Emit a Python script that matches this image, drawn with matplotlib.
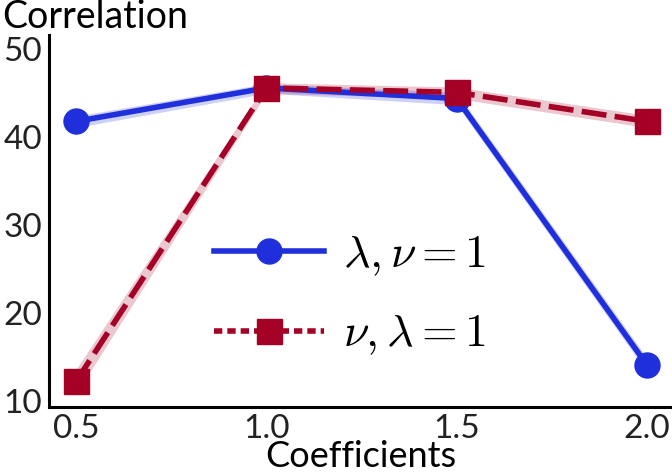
import matplotlib
matplotlib.use("Agg")
import matplotlib.pyplot as plt
from matplotlib.lines import Line2D

# valores
coeficientes = [0.5, 1.0, 1.5, 2.0]
corr_lambda = [41.8, 45.6, 44.4, 14.1]
corr_lambda_lo = [41.1, 45.0, 43.7, 13.3]
corr_lambda_hi = [42.4, 46.1, 45.1, 14.9]
corr_nu = [12.2, 45.6, 45.1, 41.8]
corr_nu_lo = [10.8, 45.0, 44.4, 41.1]
corr_nu_hi = [13.6, 46.2, 45.7, 42.5]
etiquetas_x = ["0.5", "1.0", "1.5", "2.0"]
etiquetas_y = ["10", "20", "30", "40", "50"]

azul = "#1f2fdc"
rojo = "#a50026"

plt.rcParams['font.family'] = ['Lato', 'DejaVu Sans']
plt.rcParams['mathtext.fontset'] = 'cm'

fig = plt.figure(figsize=(6.72, 4.76), dpi=100)
ax = fig.add_axes([0.073, 0.145, 0.927, 0.781])

ax.fill_between(coeficientes, corr_lambda_lo, corr_lambda_hi, color=azul, alpha=0.22, lw=0)
ax.fill_between(coeficientes, corr_nu_lo, corr_nu_hi, color=rojo, alpha=0.22, lw=0)
ax.plot(coeficientes, corr_lambda, '-', color=azul, lw=4, marker='o', ms=18, zorder=3)
ax.plot(coeficientes, corr_nu, color=rojo, lw=4, dashes=(4.5, 1.5), marker='s', ms=18, zorder=4)

ax.set_xlim(0.429, 2.066)
ax.set_ylim(9.3, 51.6)
ax.set_xticks(coeficientes)
ax.set_xticklabels(etiquetas_x)
ax.set_yticks([int(v) for v in etiquetas_y])
ax.set_yticklabels(etiquetas_y)
ax.tick_params(length=0, labelsize=24, colors='#222222', pad=5)

for s in ['top', 'right']:
    ax.spines[s].set_visible(False)
for s in ['left', 'bottom']:
    ax.spines[s].set_linewidth(2.2)

ax.set_xlabel('Coefficients', fontsize=26, labelpad=-3)
ax.set_ylabel('Correlation', fontsize=27, rotation=0, ha='left', va='bottom')
ax.yaxis.set_label_coords(-0.075, 1.0)

handles = [
    Line2D([], [], color=azul, lw=4, ls='-', marker='o', ms=18),
    Line2D([], [], color=rojo, lw=4, dashes=(1.5, 0.9), marker='s', ms=18),
]
ax.legend(handles, [r'$\lambda, \nu=1$', r'$\nu, \lambda=1$'], loc='center',
          bbox_to_anchor=(0.483, 0.30), frameon=False, fontsize=33,
          handlelength=2.4, labelspacing=0.75, handletextpad=0.4)

fig.savefig('out.png', dpi=100)
